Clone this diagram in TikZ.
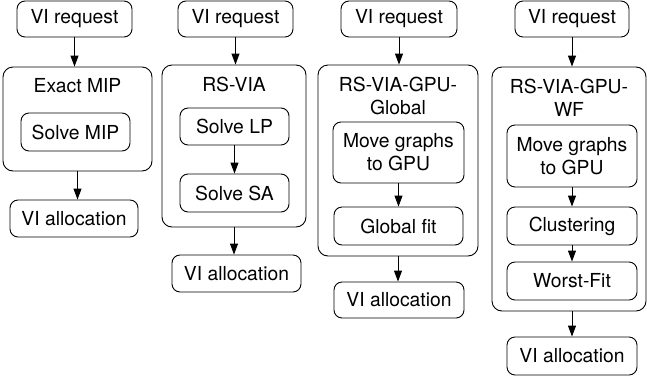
\documentclass[tikz,border=0pt]{standalone}
\usepackage{fontspec}
\setmainfont{TeX Gyre Heros}
\usetikzlibrary{arrows.meta}
\begin{document}
\begin{tikzpicture}[x=1pt,y=-1pt,
  every node/.style={font=\fontsize{19.3}{23}\selectfont},
  box/.style={draw, rounded corners=8pt, line width=0.9pt, inner sep=0pt, align=center},
  outer/.style={draw, rounded corners=10pt, line width=0.9pt, inner sep=0pt},
  ttl/.style={inner sep=0pt, align=center},
  arr/.style={-{Triangle[length=11pt,width=8pt]}, line width=0.9pt}]
\useasboundingbox (0,0) rectangle (647,381);

% column 1
\node[box, minimum width=115pt, minimum height=36pt] (req1) at (74.5,19) {VI request};
\node[outer, minimum width=149pt, minimum height=104pt] (out1) at (77.5,119) {};
\node[ttl] (t1) at (77.5,86) {Exact MIP};
\node[box, minimum width=109pt, minimum height=38pt] (mip) at (75.5,132) {Solve MIP};
\node[box, minimum width=128pt, minimum height=37pt] (al1) at (74,218.5) {VI allocation};
\draw[arr] (req1.south) -- (req1.south |- out1.north);
\draw[arr] (out1.south) -- (out1.south |- al1.north);

% column 2
\node[box, minimum width=115pt, minimum height=36pt] (req2) at (235.5,19) {VI request};
\node[outer, minimum width=144pt, minimum height=162pt] (out2) at (234,146) {};
\node[ttl] (t2) at (234,84) {RS-VIA};
\node[box, minimum width=109pt, minimum height=37pt] (lp) at (234.5,126.5) {Solve LP};
\node[box, minimum width=109pt, minimum height=38pt] (sa) at (234.5,193) {Solve SA};
\node[box, minimum width=129pt, minimum height=37pt] (al2) at (236.5,273.5) {VI allocation};
\draw[arr] (req2.south) -- (req2.south |- out2.north);
\draw[arr] (lp.south) -- (sa.north);
\draw[arr] (out2.south) -- (out2.south |- al2.north);

% column 3
\node[box, minimum width=116pt, minimum height=36pt] (req3) at (399,19) {VI request};
\node[outer, minimum width=160pt, minimum height=191pt] (out3) at (398,160.5) {};
\node[ttl] (t3) at (398,96) {RS-VIA-GPU-\\Global};
\node[box, minimum width=131pt, minimum height=61pt] (mv3) at (398.5,152.5) {Move graphs\\to GPU};
\node[box, minimum width=129pt, minimum height=38pt] (gf) at (398.5,226) {Global fit};
\node[box, minimum width=130pt, minimum height=36pt] (al3) at (399,300) {VI allocation};
\draw[arr] (req3.south) -- (req3.south |- out3.north);
\draw[arr] (mv3.south) -- (gf.north);
\draw[arr] (out3.south) -- (out3.south |- al3.north);

% column 4
\node[box, minimum width=114pt, minimum height=36pt] (req4) at (572,19) {VI request};
\node[outer, minimum width=154pt, minimum height=244pt] (out4) at (569,189) {};
\node[ttl] (t4) at (569,98) {RS-VIA-GPU-\\WF};
\node[box, minimum width=130pt, minimum height=62pt] (mv4) at (572,156) {Move graphs\\to GPU};
\node[box, minimum width=130pt, minimum height=38pt] (cl) at (572,226) {Clustering};
\node[box, minimum width=130pt, minimum height=38pt] (wf) at (572,281) {Worst-Fit};
\node[box, minimum width=130pt, minimum height=38pt] (al4) at (572,356) {VI allocation};
\draw[arr] (req4.south) -- (req4.south |- out4.north);
\draw[arr] (mv4.south) -- (cl.north);
\draw[arr] (cl.south) -- (wf.north);
\draw[arr] (out4.south -| al4.north) -- (al4.north);
\end{tikzpicture}
\end{document}
